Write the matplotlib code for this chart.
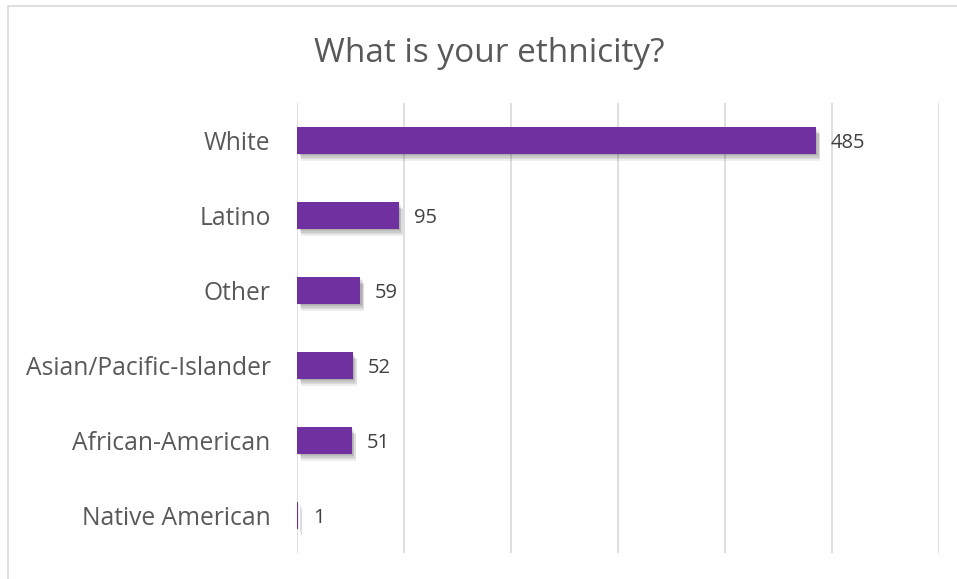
import matplotlib.pyplot as plt
import matplotlib.patheffects as pe
from matplotlib.patches import Rectangle

# Datos
categorias = ['White', 'Latino', 'Other', 'Asian/Pacific-Islander', 'African-American', 'Native American']
valores = [485, 95, 59, 52, 51, 1]

plt.rcParams['font.family'] = ['Open Sans', 'DejaVu Sans']

fig = plt.figure(figsize=(9.57, 5.79), dpi=100)
ax = fig.add_axes([297 / 957, 26 / 579, 642 / 957, 450 / 579])

posiciones = list(range(len(categorias)))
barras = ax.barh(posiciones, valores, height=0.35, color='#7030A0', zorder=3)

# sombra difusa hecha con varias capas
sombra = [pe.SimplePatchShadow(offset=(dx, -dy), shadow_rgbFace='black', alpha=0.07)
          for dx, dy in [(1, 1), (2, 2), (2, 3), (3, 4), (3, 5)]]
for b in barras:
    b.set_path_effects(sombra + [pe.Normal()])

# Etiquetas de valores
for p, v in zip(posiciones, valores):
    ax.text(v + 14, p + 0.03, str(v), va='center', ha='left', fontsize=14.5, color='#404040')

ax.set_xlim(0, 600)
ax.set_ylim(len(categorias) - 0.5, -0.5)
ax.set_xticks(range(0, 601, 100))
ax.xaxis.grid(True, color='#D9D9D9', linewidth=1.2, zorder=0)
ax.tick_params(axis='x', bottom=False, labelbottom=False)
ax.tick_params(axis='y', left=False, pad=15.5)
ax.set_yticks(posiciones)
ax.set_yticklabels(categorias, fontsize=17.7, color='#595959')
for s in ax.spines.values():
    s.set_visible(False)

fig.text(489 / 957, 1 - 53 / 579, 'What is your ethnicity?', ha='center', va='center',
         fontsize=24, color='#595959')

# Borde del gráfico
fig.patches.append(Rectangle((8 / 957, -0.01), 1.0, 1 - 6 / 579 + 0.01, transform=fig.transFigure,
                             fill=False, edgecolor='#D9D9D9', linewidth=1.2))

plt.savefig('out.png', dpi=100)
